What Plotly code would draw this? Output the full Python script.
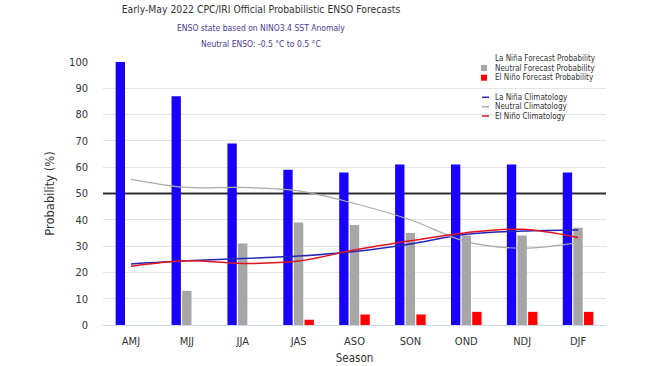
import plotly.graph_objects as go

seasons = ["AMJ", "MJJ", "JJA", "JAS", "ASO", "SON", "OND", "NDJ", "DJF"]
lanina_prob = [100, 87, 69, 59, 58, 61, 61, 61, 58]
neutral_prob = [0, 13, 31, 39, 38, 35, 34, 34, 37]
elnino_prob = [0, 0, 0, 2, 4, 4, 5, 5, 5]
lanina_clim = [23.2, 24.4, 25.3, 26.2, 27.9, 30.8, 34.5, 35.7, 36.1]
neutral_clim = [55.4, 52.3, 52.3, 51.0, 46.2, 40.0, 31.7, 29.2, 31.3]
elnino_clim = [22.3, 24.4, 23.4, 24.3, 28.5, 32.0, 35.1, 36.4, 33.3]
threshold = 50

bar_names = ["La Niña Forecast Probability", "Neutral Forecast Probability",
             "El Niño Forecast Probability"]
line_names = ["La Niña Climatology", "Neutral Climatology", "El Niño Climatology"]
bar_colors = ["#1a00ff", "#a6a6a6", "#ff0000"]
line_colors = ["#2424b8", "#aaaaaa", "#e0141c"]

W, H = 650, 366
L, R, T, B = 103, 44, 62, 41
PW, PH = W - L - R, H - T - B

def px(x):
    return (x - L) / PW

def py(y):
    return (H - B - y) / PH

FONT = "DejaVu Sans Condensed, DejaVu Sans"
fig = go.Figure()
for name, vals, col in zip(bar_names, [lanina_prob, neutral_prob, elnino_prob], bar_colors):
    fig.add_bar(x=seasons, y=vals, name=name, marker_color=col, marker_line_width=0)
for name, vals, col, w in zip(line_names, [lanina_clim, neutral_clim, elnino_clim],
                              line_colors, [1.5, 1.2, 1.5]):
    fig.add_scatter(x=seasons, y=vals, name=name, mode="lines",
                    line=dict(color=col, width=w, shape="spline"))

fig.add_hline(y=threshold, line=dict(color="#333333", width=2), layer="below")

shapes = []
annotations = []
# custom compact legend
bar_rows = [58.3, 68.0, 77.7]
line_rows = [97.3, 106.7, 116.0]
for yy, col, name in zip(bar_rows, bar_colors, bar_names):
    shapes.append(dict(type="rect", xref="paper", yref="paper",
                       x0=px(481), x1=px(487), y0=py(yy + 3), y1=py(yy - 3),
                       fillcolor=col, line_width=0))
    annotations.append(dict(text=name, xref="paper", yref="paper", x=px(493), y=py(yy),
                            xanchor="left", yanchor="middle", showarrow=False,
                            font=dict(size=8, color="#333333", family=FONT)))
for yy, col, name in zip(line_rows, line_colors, line_names):
    shapes.append(dict(type="line", xref="paper", yref="paper",
                       x0=px(482), x1=px(489), y0=py(yy), y1=py(yy),
                       line=dict(color=col, width=1.5)))
    annotations.append(dict(text=name, xref="paper", yref="paper", x=px(493), y=py(yy),
                            xanchor="left", yanchor="middle", showarrow=False,
                            font=dict(size=8, color="#333333", family=FONT)))

for txt, yy in [("ENSO state based on NINO3.4 SST Anomaly", 28),
                ("Neutral ENSO: -0.5 °C to 0.5 °C", 44.5)]:
    annotations.append(dict(text=txt, xref="paper", yref="paper", x=px(261), y=py(yy),
                            xanchor="center", yanchor="middle", showarrow=False,
                            font=dict(size=8.5, color="#4b3b92", family=FONT)))

fig.update_layout(
    width=W, height=H,
    margin=dict(l=L, r=R, t=T, b=B, autoexpand=False),
    paper_bgcolor="white", plot_bgcolor="white",
    font=dict(family=FONT, color="#333333", size=11),
    barmode="group", bargap=0.43, bargroupgap=0.12,
    title=dict(text="Early-May 2022 CPC/IRI Official Probabilistic ENSO Forecasts",
               x=261 / W, xanchor="center", y=1 - 9 / H, yanchor="middle",
               font=dict(size=10.3, color="#333333", family=FONT)),
    annotations=annotations,
    shapes=shapes,
    showlegend=False,
)
fig.update_xaxes(range=[-0.5, 8.5], showgrid=False, showline=True, linecolor="#ccd6eb",
                 automargin=False,
                 ticks="", ticklabelstandoff=6, tickfont=dict(size=11, color="#333333"),
                 title=dict(text="Season", font=dict(size=11.5), standoff=6))
fig.update_yaxes(range=[0, 100], dtick=10, showgrid=True, gridcolor="rgba(0,0,0,0.1)",
                 automargin=False,
                 zeroline=False, showline=False, ticks="", ticklabelstandoff=14,
                 tickfont=dict(size=11, color="#333333"),
                 title=dict(text="Probability (%)",
                            font=dict(size=11.5, family="DejaVu Sans"), standoff=12))
fig.write_html("out.html", config={"displayModeBar": False},
               post_script="document.body.style.margin='0';document.body.style.overflow='hidden';")
